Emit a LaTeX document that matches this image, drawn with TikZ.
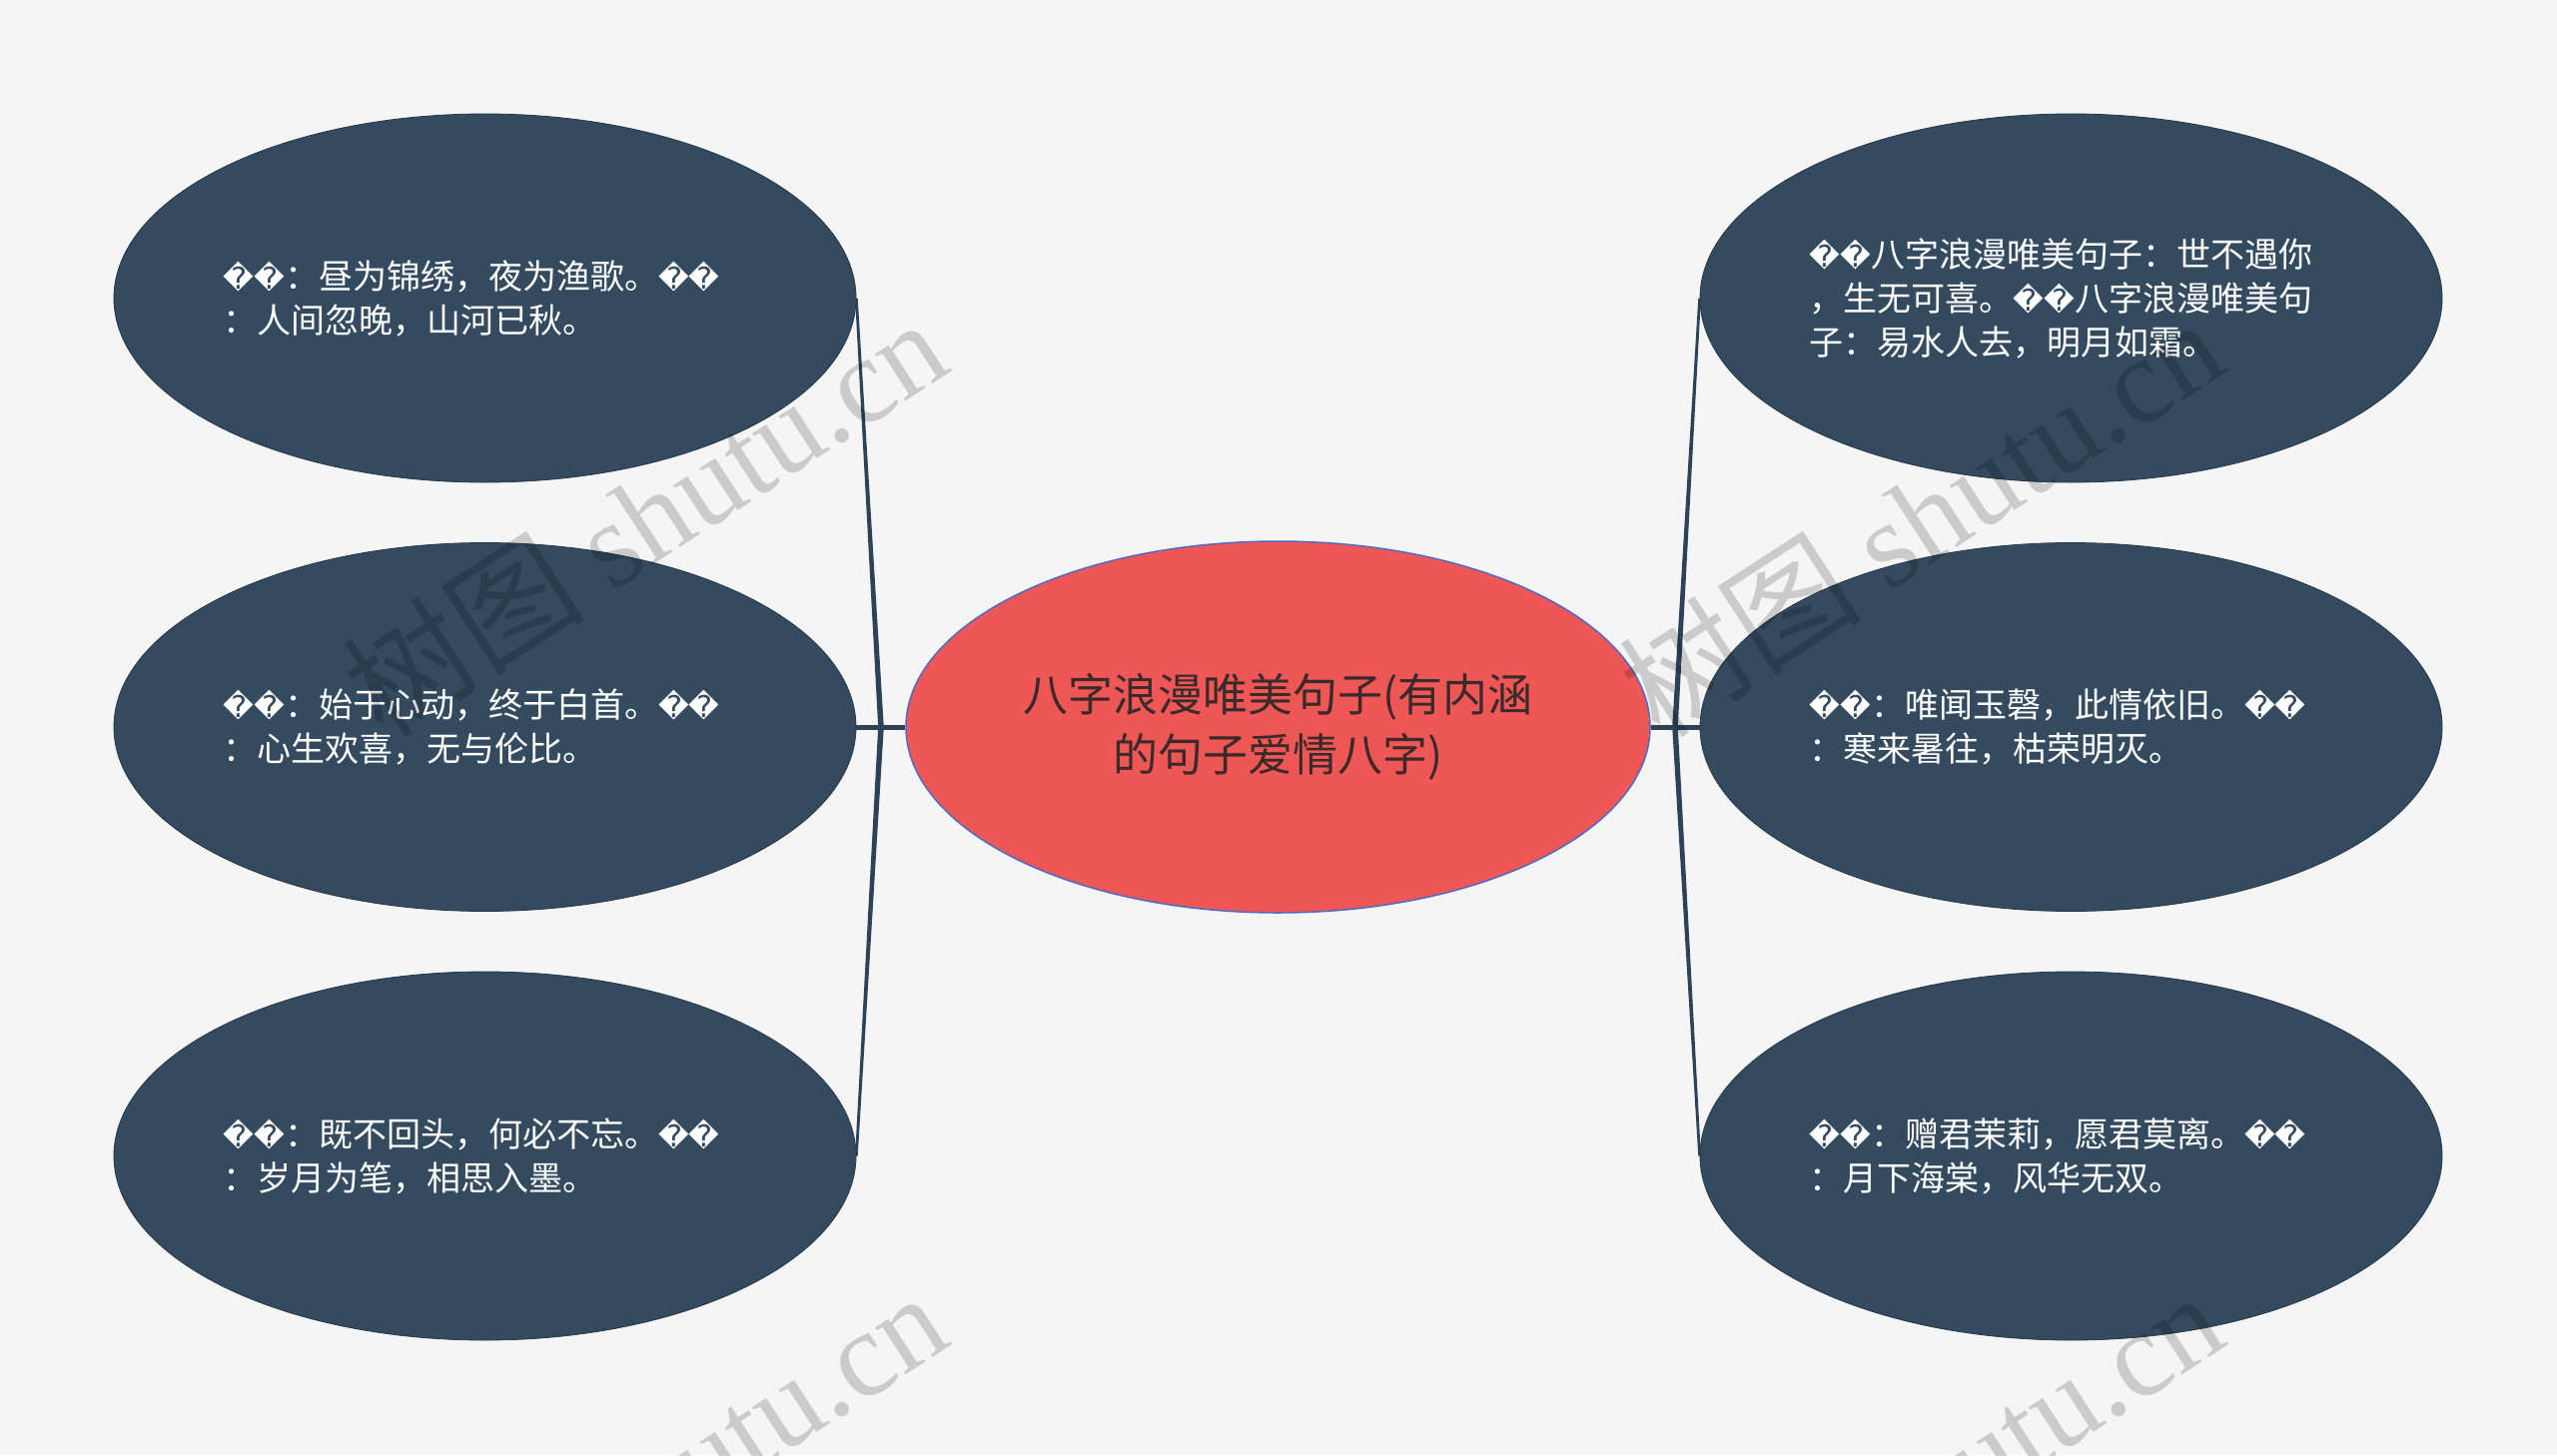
\documentclass[tikz,border=0pt]{standalone}
\usepackage{fontspec}
\setmainfont{Noto Sans CJK SC}
\newfontfamily\dvfont{DejaVu Sans}
\newfontfamily\wmlatin{Liberation Serif}
\newcommand\rp{{\dvfont\fontsize{30}{44}\selectfont\symbol{"FFFD}}}
\usetikzlibrary{shapes.geometric,calc}
\definecolor{bgc}{HTML}{F5F5F5}
\definecolor{nodec}{HTML}{334A5F}
\definecolor{connc}{HTML}{2D4257}
\definecolor{redc}{HTML}{EF5656}
\definecolor{redborder}{HTML}{4D6BC6}
\definecolor{ctext}{HTML}{3B2A2A}
\tikzset{
  child/.style={ellipse, fill=nodec, draw=nodec!75!black, line width=0.8pt,
    minimum width=743, minimum height=369, inner sep=0pt},
  centre/.style={ellipse, fill=redc, draw=redborder, line width=1.5pt,
    minimum width=745, minimum height=372, inner sep=0pt,
    text=ctext, align=center, font=\fontsize{45}{60}\selectfont},
  ctxt/.style={anchor=west, inner sep=0pt, align=left, text=white,
    font=\fontsize{34}{44}\selectfont},
  conn/.style={draw=connc, line width=5pt},
  wm/.style={rotate=33, text=black, text opacity=0.17, inner sep=0pt,
    font=\fontsize{122}{122}\selectfont}
}
\begin{document}
\begin{tikzpicture}[x=1pt,y=-1pt]
\fill[bgc] (0,0) rectangle (2560,1457);
\useasboundingbox (0,0) rectangle (2560,1457);
\clip (0,0) rectangle (2560,1457);

% centre
\node[centre] (C) at (1279.5,728) {八字浪漫唯美句子(有内涵\\的句子爱情八字)};

% left children
\node[child] (L0) at (485.5,298.5) {};
\node[child] (L1) at (485.5,728) {};
\node[child] (L2) at (485.5,1157.5) {};
% right children
\node[child] (R0) at (2073.5,298.5) {};
\node[child] (R1) at (2073.5,728) {};
\node[child] (R2) at (2073.5,1157.5) {};

% texts
\node[ctxt] (L0t) at ($(L0.center)+(-262,0)$) {\rp\rp：昼为锦绣，夜为渔歌。\rp\rp\\：人间忽晚，山河已秋。};
\node[ctxt] (L1t) at ($(L1.center)+(-262,0)$) {\rp\rp：始于心动，终于白首。\rp\rp\\：心生欢喜，无与伦比。};
\node[ctxt] (L2t) at ($(L2.center)+(-262,0)$) {\rp\rp：既不回头，何必不忘。\rp\rp\\：岁月为笔，相思入墨。};
\node[ctxt] (R0t) at ($(R0.center)+(-262,0)$) {\rp\rp 八字浪漫唯美句子：世不遇你\\，生无可喜。\rp\rp 八字浪漫唯美句\\子：易水人去，明月如霜。};
\node[ctxt] (R1t) at ($(R1.center)+(-262,0)$) {\rp\rp：唯闻玉磬，此情依旧。\rp\rp\\：寒来暑往，枯荣明灭。};
\node[ctxt] (R2t) at ($(R2.center)+(-262,0)$) {\rp\rp：赠君茉莉，愿君莫离。\rp\rp\\：月下海棠，风华无双。};

% connectors
\coordinate (jL) at (882,728);
\coordinate (jR) at (1677,728);
\draw[conn] (C.west) -- (L1.east);
\draw[conn] (C.east) -- (R1.west);
\fill[connc] ($(L0.east)+(-1.3,0)$) -- ($(jL)+(-2.8,0)$) -- ($(jL)+(2.8,0)$) -- ($(L0.east)+(1.3,0)$) -- cycle;
\fill[connc] ($(L2.east)+(-1.3,0)$) -- ($(jL)+(-2.8,0)$) -- ($(jL)+(2.8,0)$) -- ($(L2.east)+(1.3,0)$) -- cycle;
\fill[connc] ($(R0.west)+(-1.3,0)$) -- ($(jR)+(-2.8,0)$) -- ($(jR)+(2.8,0)$) -- ($(R0.west)+(1.3,0)$) -- cycle;
\fill[connc] ($(R2.west)+(-1.3,0)$) -- ($(jR)+(-2.8,0)$) -- ($(jR)+(2.8,0)$) -- ($(R2.west)+(1.3,0)$) -- cycle;

% watermarks
\node[wm] (W1) at (645,517) {树图 {\wmlatin shutu.cn}};
\node[wm] (W2) at (1923,517) {树图 {\wmlatin shutu.cn}};
\node[wm] (W3) at (645,1492) {树图 {\wmlatin shutu.cn}};
\node[wm] (W4) at (1923,1492) {树图 {\wmlatin shutu.cn}};
\end{tikzpicture}
\end{document}
